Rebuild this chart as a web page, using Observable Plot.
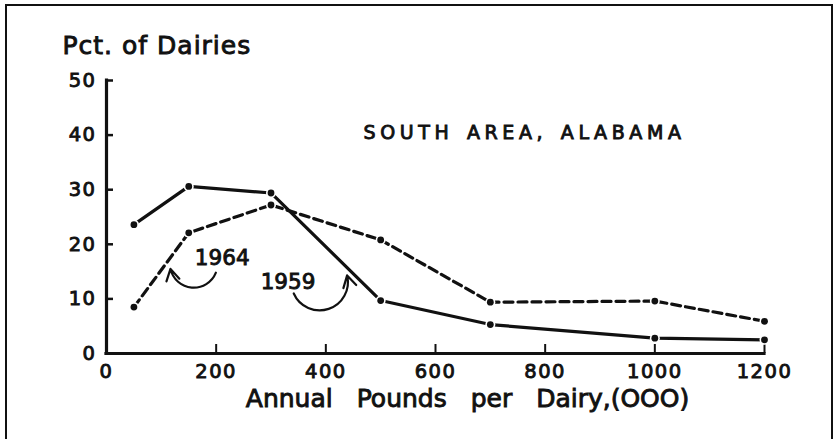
<!DOCTYPE html>
<html>
<head>
<meta charset="utf-8">
<script src="https://cdn.jsdelivr.net/npm/d3@7"></script>
<script src="https://cdn.jsdelivr.net/npm/@observablehq/plot@0.6"></script>
<style>
  html, body { margin: 0; padding: 0; background: #fff; overflow: hidden; }
  #wrap { position: relative; width: 838px; height: 439px; }
  #border { position: absolute; left: 5px; top: 4px; width: 824px; height: 470px;
            border: 2px solid #111; border-bottom: none; pointer-events: none; }
</style>
</head>
<body>
<div id="wrap"><div id="border"></div></div>
<script>
// Data
const pounds = [50, 150, 300, 500, 700, 1000, 1200];
const pct1959 = [23.6, 30.6, 29.4, 9.7, 5.3, 2.8, 2.5];
const pct1964 = [8.5, 22.1, 27.2, 20.8, 9.4, 9.6, 5.9];
const xTicks = [0, 200, 400, 600, 800, 1000, 1200];
const yTicks = [0, 10, 20, 30, 40, 50];

// Annotations
const annLabels = ["1964", "1959"];
const annX = [211, 331];
const annY = [17.4, 13.1];
const arrowX1 = [199.5, 341.5];
const arrowY1 = [14.8, 11.0];
const arrowX2 = [116.7, 438.8];
const arrowY2 = [15.5, 14.3];

const yTitle = "Pct. of Dairies";
const areaTitle = "SOUTH AREA, ALABAMA";
const xTitle = "Annual Pounds per Dairy,(OOO)";

const rows1959 = pounds.map((p, i) => ({x: p, y: pct1959[i]}));
const rows1964 = pounds.map((p, i) => ({x: p, y: pct1964[i]}));
const allRows = rows1959.concat(rows1964);
const ann = annLabels.map((t, i) => ({t, x: annX[i], y: annY[i]}));
const arrows = arrowX1.map((x1, i) => ({x1, y1: arrowY1[i], x2: arrowX2[i], y2: arrowY2[i]}));

const chart = Plot.plot({
  width: 838,
  height: 439,
  marginLeft: 106,
  marginRight: 74,
  marginTop: 80,
  marginBottom: 86,
  x: {domain: [0, 1200]},
  y: {domain: [0, 50]},
  style: {fontFamily: "DejaVu Sans", background: "transparent", color: "#111", overflow: "visible"},
  marks: [
    Plot.axisX(xTicks, {tickSize: 0, tickPadding: 11, fontSize: 19.5, label: null, tickFormat: d => String(d)}),
    Plot.axisY(yTicks, {tickSize: 0, tickPadding: 10, fontSize: 19.5, label: null, tickFormat: d => String(d)}),
    Plot.tickX(xTicks.slice(1), {x: d => d, insetTop: 264, strokeWidth: 2, stroke: "#111"}),
    Plot.tickY(yTicks.slice(1), {y: d => d, insetRight: 651, strokeWidth: 2.5, stroke: "#111"}),
    Plot.ruleX([0], {strokeWidth: 3.2, stroke: "#111", strokeLinecap: "square"}),
    Plot.ruleY([0], {strokeWidth: 3.2, stroke: "#111", strokeLinecap: "square"}),
    Plot.line(rows1959, {x: "x", y: "y", stroke: "#111", strokeWidth: 3.2}),
    Plot.line(rows1964, {x: "x", y: "y", stroke: "#111", strokeWidth: 3.2, strokeDasharray: "9,5"}),
    Plot.dot(allRows, {x: "x", y: "y", r: 5, fill: "white"}),
    Plot.dot(allRows, {x: "x", y: "y", r: 3.4, fill: "#111"}),
    Plot.arrow(arrows.slice(0, 1), {x1: "x1", y1: "y1", x2: "x2", y2: "y2", bend: 73, stroke: "#111", strokeWidth: 2.2, headLength: 9}),
    Plot.arrow(arrows.slice(1), {x1: "x1", y1: "y1", x2: "x2", y2: "y2", bend: -85, stroke: "#111", strokeWidth: 2.2, headLength: 9}),
    Plot.text(ann, {x: "x", y: "y", text: "t", fontSize: 21.5, fill: "#111"}),
    Plot.text([yTitle], {frameAnchor: "top-left", lineAnchor: "middle", textAnchor: "start", dx: -44, dy: -35, fontSize: 25, fill: "#111"}),
    Plot.text([areaTitle], {frameAnchor: "top-left", lineAnchor: "middle", textAnchor: "start", dx: 257, dy: 52, fontSize: 19, fill: "#111"}),
    Plot.text([xTitle], {frameAnchor: "bottom", lineAnchor: "middle", textAnchor: "middle", dx: 32, dy: 45, fontSize: 25, fill: "#111"})
  ]
});

// Typographic finishing (heavier lettering, spacing like the original)
const svg = d3.select(chart);
svg.selectAll("text")
  .style("stroke", "#111")
  .style("stroke-width", "0.9px")
  .style("paint-order", "stroke");
svg.selectAll('[aria-label="x-axis tick label"] text, [aria-label="y-axis tick label"] text')
  .style("letter-spacing", "1.5px");
svg.selectAll("text").filter(function() { return this.textContent === areaTitle; })
  .style("letter-spacing", "4.6px").style("word-spacing", "3px");
svg.selectAll("text").filter(function() { return this.textContent === yTitle; })
  .style("letter-spacing", "1px");
svg.selectAll("text").filter(function() { return this.textContent === xTitle; })
  .style("word-spacing", "16px");

document.getElementById("wrap").prepend(chart);
</script>
</body>
</html>
